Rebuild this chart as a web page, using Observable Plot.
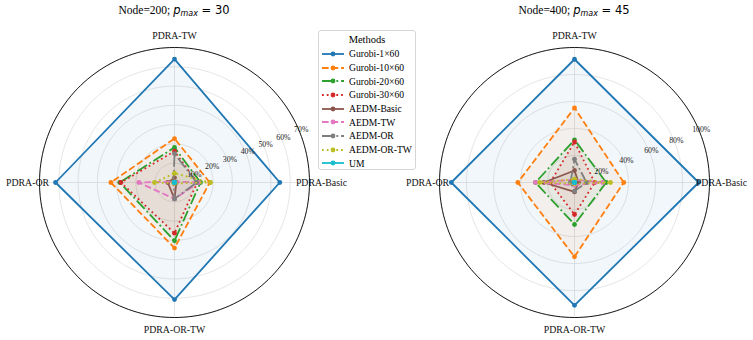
<!DOCTYPE html>
<html><head><meta charset="utf-8">
<script src="https://cdn.jsdelivr.net/npm/d3@7"></script>
<script src="https://cdn.jsdelivr.net/npm/@observablehq/plot@0.6"></script>
<style>
body{margin:0;background:#fff;}
#root{position:relative;width:753px;height:340px;overflow:hidden;font-family:"Liberation Serif",serif;}
#root svg.chart{position:absolute;left:0;top:0;}
.title{position:absolute;top:2px;width:240px;text-align:center;font-size:11.5px;line-height:16px;color:#000;white-space:nowrap;}
.title .m{font-family:"DejaVu Sans",sans-serif;}
.title sub{font-size:8px;vertical-align:-2px;}
#legend{position:absolute;left:318px;top:30px;width:98px;height:140px;box-sizing:border-box;border:1px solid #d6d6d6;border-radius:3px;background:rgba(255,255,255,0.85);}
#legend .lt{height:15px;line-height:15px;text-align:center;font-size:10.5px;margin-top:1px;}
#legend .row{height:13.7px;display:flex;align-items:center;font-size:9.6px;white-space:nowrap;}
#legend .row svg{margin-left:3px;margin-right:5px;flex:none;}
</style></head><body><div id="root"></div>
<script>
// ---- categories / labels ----
const axisNames = ["PDRA-Basic", "PDRA-TW", "PDRA-OR", "PDRA-OR-TW"];
const methods = ["Gurobi-1×60", "Gurobi-10×60", "Gurobi-20×60", "Gurobi-30×60",
  "AEDM-Basic", "AEDM-TW", "AEDM-OR", "AEDM-OR-TW", "UM"];
const colors = ["#1f77b4", "#ff7f0e", "#2ca02c", "#d62728", "#8c564b", "#e377c2", "#7f7f7f", "#bcbd22", "#17becf"];
const lineStyles = ["solid", "dashed", "dashdot", "dotted", "solid", "dashed", "dashdot", "dotted", "solid"];

// ---- Node=200, p_max=30 (values in %, order: Basic, TW, OR, OR-TW) ----
const gurobi1_200  = [54.6, 64.0, 61.7, 60.7];
const gurobi10_200 = [18.3, 22.8, 33.0, 34.0];
const gurobi20_200 = [13.5, 18.2, 28.4, 30.2];
const gurobi30_200 = [11.8, 16.2, 27.8, 26.3];
const aedmBasic_200 = [1.0, 2.4, 3.5, 8.5];
const aedmTW_200    = [12.6, 0.5, 18.5, 8.5];
const aedmOR_200    = [11.5, 15.0, 0.5, 8.5];
const aedmORTW_200  = [18.7, 4.8, 10.4, 0.5];
const um_200        = [0, 0, 0, 0];
const ticks200 = [10, 20, 30, 40, 50, 60, 70];
const rmax200 = 70;

// ---- Node=400, p_max=45 ----
const gurobi1_400  = [92.0, 91.3, 91.3, 91.0];
const gurobi10_400 = [36.5, 55.3, 42.0, 55.0];
const gurobi20_400 = [23.5, 31.6, 28.9, 31.1];
const gurobi30_400 = [15.0, 30.0, 18.0, 23.7];
const aedmBasic_400 = [3.0, 8.9, 22.7, 7.0];
const aedmTW_400    = [21.0, 2.0, 28.9, 2.0];
const aedmOR_400    = [8.9, 17.3, 3.0, 6.4];
const aedmORTW_400  = [26.7, 2.5, 25.7, 1.0];
const um_400        = [0, 0, 0, 0];
const ticks400 = [20, 40, 60, 80, 100];
const rmax400 = 100;

const series200 = [gurobi1_200, gurobi10_200, gurobi20_200, gurobi30_200, aedmBasic_200, aedmTW_200, aedmOR_200, aedmORTW_200, um_200];
const series400 = [gurobi1_400, gurobi10_400, gurobi20_400, gurobi30_400, aedmBasic_400, aedmTW_400, aedmOR_400, aedmORTW_400, um_400];

const LW = 1.8;
function dash(s) {
  if (s === "dashed") return [3.7 * LW, 1.6 * LW].join(",");
  if (s === "dashdot") return [6.4 * LW, 1.6 * LW, 1 * LW, 1.6 * LW].join(",");
  if (s === "dotted") return [1 * LW, 1.65 * LW].join(",");
  return null;
}
const ang = i => i * Math.PI / 2;
const FONT = "Liberation Serif";

function radar(series, rmax, ticks, cx, cy) {
  const W = 753, H = 340, R = 135;
  const k = R / rmax;
  const circle = (t) => d3.range(0, 361, 2).map(a => ({t, x: t * Math.cos(a * Math.PI / 180), y: t * Math.sin(a * Math.PI / 180)}));
  const grid = ticks.flatMap(circle);
  const outer = circle(rmax);
  const spokes = axisNames.map((n, i) => ({x2: rmax * Math.cos(ang(i)), y2: rmax * Math.sin(ang(i))}));
  const labelR = rmax * 147 / R;
  const rl = 22.5 * Math.PI / 180;

  const marks = [
    Plot.line(grid, {x: "x", y: "y", z: "t", stroke: "#dedede", strokeWidth: 0.8}),
    Plot.link(spokes, {x1: () => 0, y1: () => 0, x2: "x2", y2: "y2", stroke: "#dedede", strokeWidth: 0.8})
  ];
  series.forEach((vals, s) => {
    const pts = vals.map((v, i) => ({x: v * Math.cos(ang(i)), y: v * Math.sin(ang(i))}));
    const closed = pts.concat([pts[0]]);
    marks.push(Plot.line(closed, {x: "x", y: "y", fill: colors[s], fillOpacity: 0.06, stroke: "none"}));
    marks.push(Plot.line(closed, {x: "x", y: "y", stroke: colors[s], strokeWidth: LW,
      strokeDasharray: dash(lineStyles[s]), strokeLinecap: "butt", strokeLinejoin: "miter"}));
    marks.push(Plot.dot(pts, {x: "x", y: "y", r: 2.4, fill: colors[s], stroke: "none"}));
  });
  marks.push(Plot.line(outer, {x: "x", y: "y", stroke: "#000", strokeWidth: 0.9}));
  marks.push(Plot.text(ticks, {x: t => t * Math.cos(rl), y: t => t * Math.sin(rl), text: t => t + "%",
    fontSize: 7.8, fontFamily: FONT, fill: "#222", dx: 2, dy: -1}));
  marks.push(Plot.text(axisNames, {x: (d, i) => labelR * Math.cos(ang(i)), y: (d, i) => labelR * Math.sin(ang(i)),
    text: d => d, fontSize: 9.8, fontFamily: FONT, fill: "#111"}));

  const svg = Plot.plot({
    width: W, height: H, margin: 0,
    x: {type: "linear", domain: [-cx / k, (W - cx) / k], axis: null},
    y: {type: "linear", domain: [-(H - cy) / k, cy / k], axis: null},
    style: {background: "transparent", overflow: "visible"},
    marks
  });
  svg.classList.add("chart");
  return svg;
}

const root = document.getElementById("root");
root.appendChild(radar(series200, rmax200, ticks200, 174, 182));
root.appendChild(radar(series400, rmax400, ticks400, 574, 182));

// titles
function title(cx, node, p) {
  const d = document.createElement("div");
  d.className = "title";
  d.style.left = (cx - 120) + "px";
  d.innerHTML = `Node=${node}; <span class="m"><i>p</i><sub><i>max</i></sub> = ${p}</span>`;
  root.appendChild(d);
}
title(174, 200, 30);
title(574, 400, 45);

// legend
const lg = document.createElement("div");
lg.id = "legend";
lg.innerHTML = `<div class="lt">Methods</div>`;
methods.forEach((m, s) => {
  const row = document.createElement("div");
  row.className = "row";
  const da = dash(lineStyles[s]);
  row.innerHTML = `<svg width="22" height="8"><line x1="0" y1="4" x2="22" y2="4" stroke="${colors[s]}" stroke-width="${LW}" ${da ? `stroke-dasharray="${da}"` : ""}/><circle cx="11" cy="4" r="2.4" fill="${colors[s]}"/></svg><span>${m}</span>`;
  lg.appendChild(row);
});
root.appendChild(lg);
</script></body></html>
